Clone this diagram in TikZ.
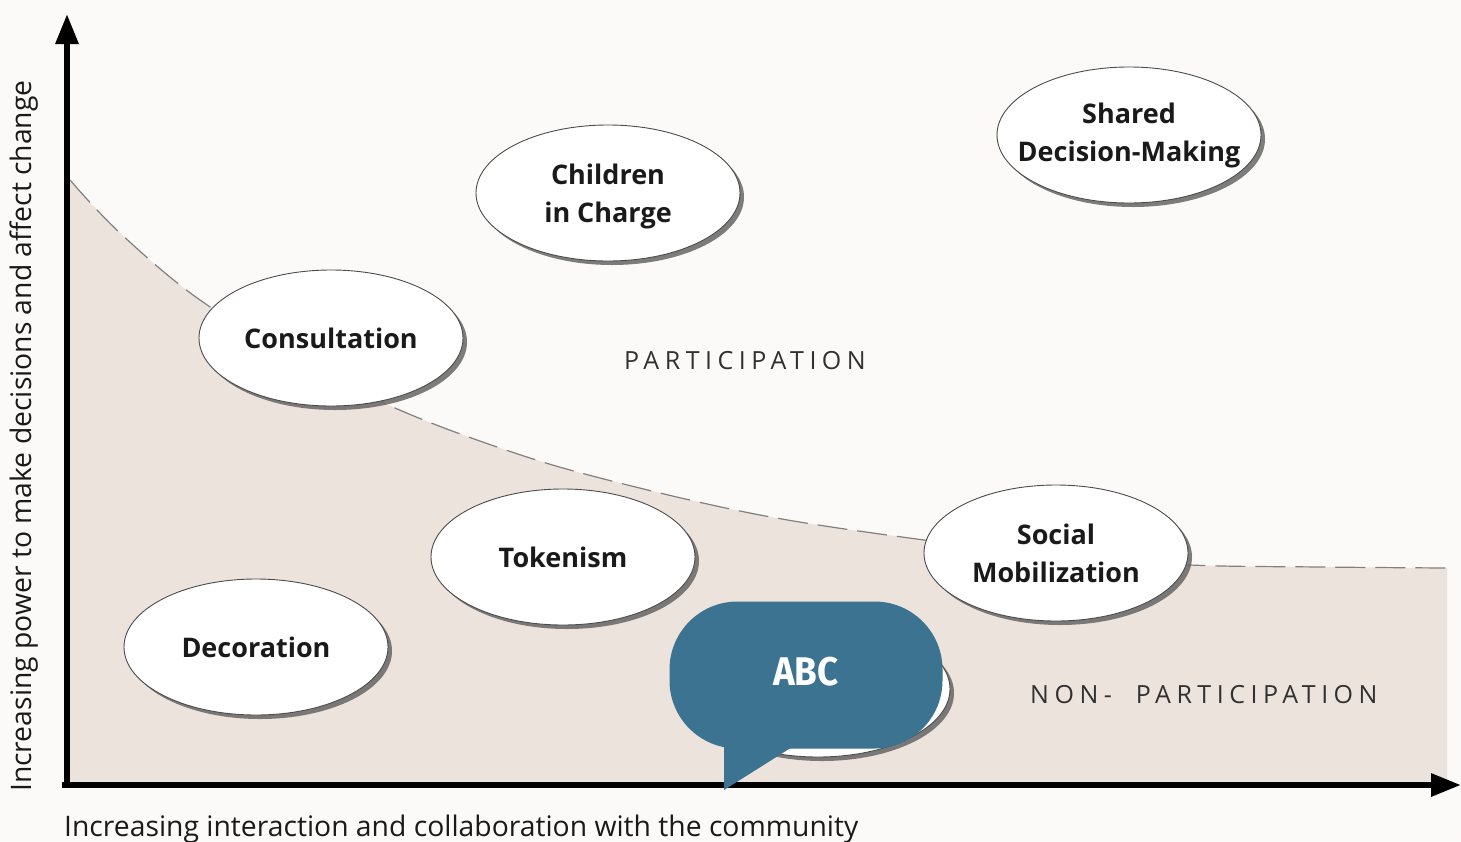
\documentclass[tikz,border=0pt]{standalone}
\usepackage{fontspec}
\setmainfont{Open Sans}
\newfontfamily\abcfont{Fira Sans}
\usetikzlibrary{shapes.geometric,shadows,arrows.meta}
\definecolor{bg}{HTML}{FCFAF8}
\definecolor{regionfill}{HTML}{ECE3DC}
\definecolor{bubblecol}{HTML}{3B7390}
\definecolor{ink}{HTML}{1A1A1A}
\begin{document}
\begin{tikzpicture}[x=1pt,y=-1pt,
  oval/.style={ellipse, draw=black!70, line width=0.9pt, fill=white,
    minimum width=264pt, minimum height=136pt, inner sep=0pt,
    drop shadow={shadow xshift=4pt, shadow yshift=-4pt, fill=black!60, opacity=0.85}},
  ovaltext/.style={font=\fontsize{27}{38}\selectfont\bfseries, align=center, text=ink},
  axis/.style={line width=6pt, draw=black, -{Triangle[length=30pt,width=22pt]}},
  axislabel/.style={font=\fontsize{28.3}{32}\selectfont, text=ink, inner sep=0pt},
  zone/.style={font=\fontsize{25}{28}\selectfont\addfontfeature{LetterSpace=22}, text=ink!90, inner sep=0pt},
  boundary/.style={draw=black!50, line width=1.2pt, dash pattern=on 30pt off 10pt},
]
\useasboundingbox (0,0) rectangle (1461,841);
\fill[bg] (0,0) rectangle (1461,841);

% shaded non-participation region
\fill[regionfill] (70,785) -- plot[smooth, tension=0.6] coordinates {(70,180) (120,233) (200,300) (300,360) (395,408) (500,448) (600,478) (760,515) (924,540) (1060,556) (1190,565) (1320,567) (1447,568)}
  -- (1447,785) -- cycle;
\draw[boundary] plot[smooth, tension=0.6] coordinates {(70,180) (120,233) (200,300) (300,360) (395,408) (500,448) (600,478) (760,515) (924,540) (1060,556) (1190,565) (1320,567) (1447,568)};

% axes
\coordinate (o) at (67,785);
\coordinate (ytip) at (67,14);
\coordinate (xo) at (62,785);
\coordinate (xtip) at (1461,785);
\draw[axis] (o) -- (ytip);
\draw[axis] (xo) -- (xtip);

\node[axislabel, rotate=90] (ylab) at (24,436) {Increasing power to make decisions and affect change};
\node[axislabel, anchor=base west] (xlab) at (64,836) {Increasing interaction and collaboration with the community};

% zone labels
\node[zone] (part) at (745,361) {PARTICIPATION};
\node[zone, anchor=west] (nonpart) at (1030,695) {NON-\ \ PARTICIPATION};

% ovals
\node[oval] (cic) at (608,193) {};
\node[ovaltext] at ([yshift=-3pt]cic) {Children\\in Charge};
\node[oval] (sdm) at (1129,135) {};
\node[ovaltext] at (sdm) {Shared\\Decision-Making};
\node[oval] (con) at (331,338) {};
\node[ovaltext] at (con) {Consultation};
\node[oval] (tok) at (563,557) {};
\node[ovaltext] at (tok) {Tokenism};
\node[oval] (dec) at (256,647) {};
\node[ovaltext] at (dec) {Decoration};
\node[oval] (soc) at (1056,553) {};
\node[ovaltext] at (soc) {Social\\Mobilization};
\node[oval] (hid) at (818,689) {};

% speech bubble
\node[fill=bubblecol, rounded corners=68pt, minimum width=273pt, minimum height=147pt, inner sep=0pt] (abc) at (806,675) {};
\coordinate (t1) at (724,700);
\coordinate (t2) at (724,790);
\coordinate (t3) at (808,737);
\fill[bubblecol] (t1) -- (t2) -- (t3) -- cycle;
\node[text=white, font=\abcfont\bfseries\fontsize{40}{44}\selectfont, inner sep=0pt] (abctext) at (806,672) {\scalebox{0.92}[1]{ABC}};
\end{tikzpicture}
\end{document}
